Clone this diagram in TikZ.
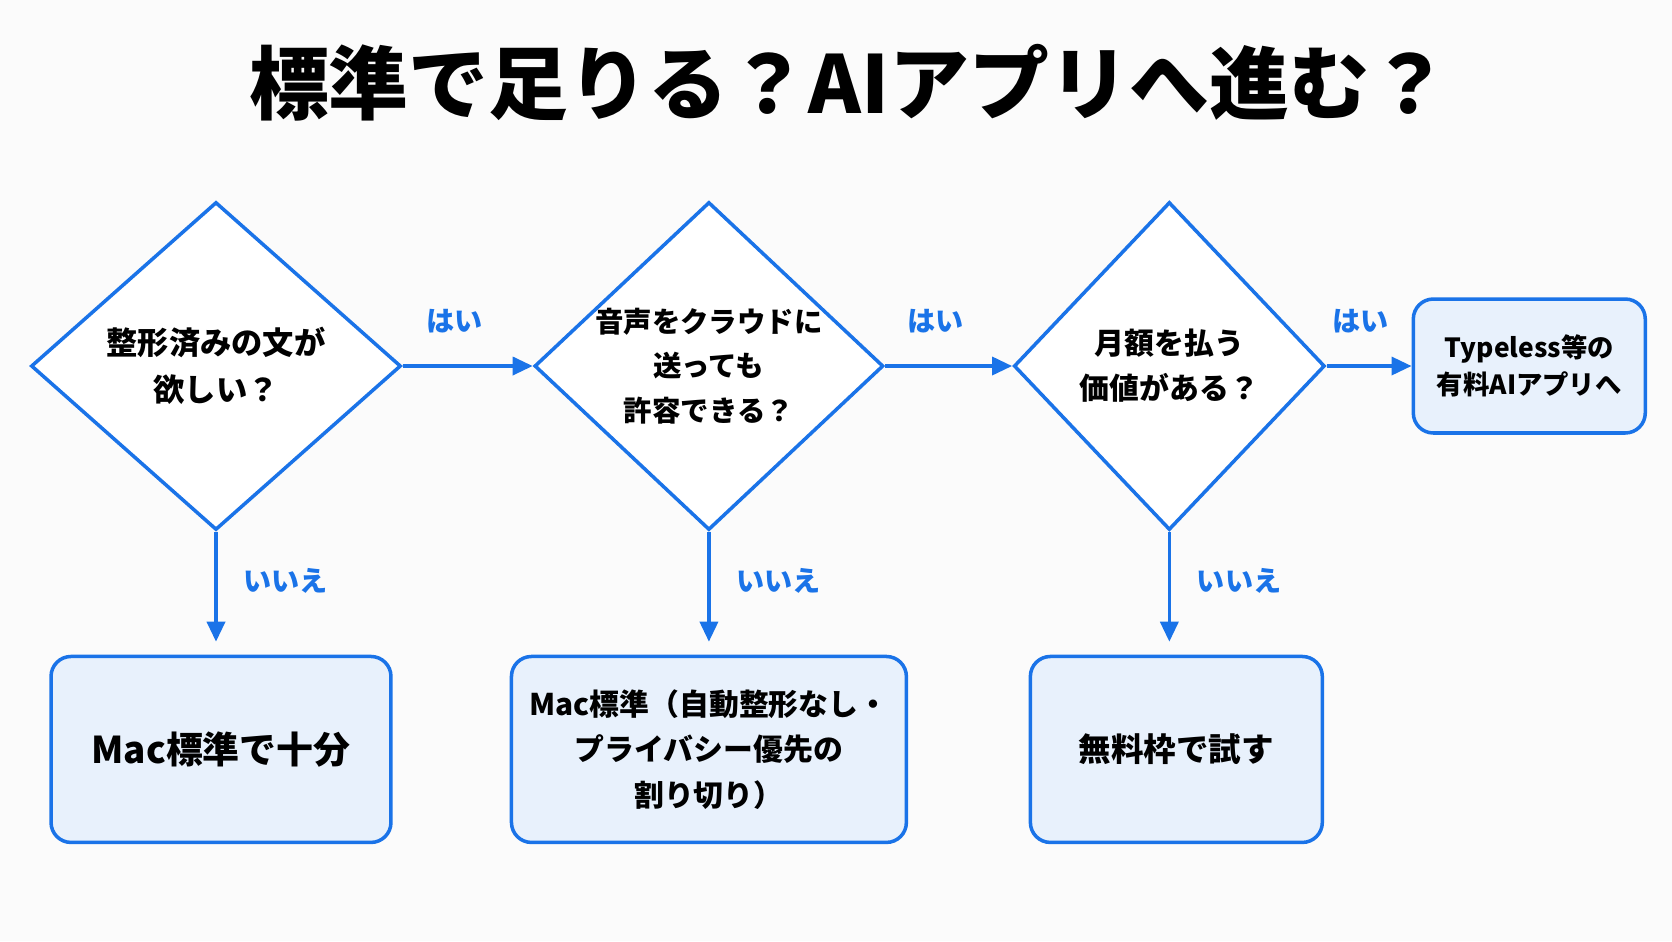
\documentclass[tikz,border=0pt]{standalone}
\usepackage{fontspec}
\setmainfont{Noto Sans CJK JP}
\usepackage{xcolor}
\usetikzlibrary{arrows.meta, positioning, shapes.geometric}
\definecolor{flowblue}{HTML}{1A73E8}
\definecolor{boxfill}{HTML}{E8F1FC}
\definecolor{bgpaper}{HTML}{FBFBFB}

\begin{document}
\begin{tikzpicture}[x=0.02cm, y=-0.02cm,
    q/.style={diamond, draw=flowblue, line width=2pt, fill=white, align=center,
              inner sep=0pt, font=\fontsize{17}{25.5}\selectfont\bfseries},
    res/.style={draw=flowblue, line width=2pt, fill=boxfill, rounded corners=4mm,
                align=center, minimum height=3.72cm},
    arr/.style={-{Triangle[length=4mm, width=3.6mm]}, draw=flowblue, line width=2pt},
    ans/.style={text=flowblue, font=\fontsize{16}{18}\selectfont\bfseries}]
  \fill[bgpaper] (0,0) rectangle (1672,941);
  \node[font=\fontsize{45.5}{50}\selectfont\bfseries] (title) at (849,83) {標準で足りる？AIアプリへ進む？};
  % questions
  \node[q, minimum width=7.4cm, minimum height=6.56cm,
        font=\fontsize{17.8}{26.5}\selectfont\bfseries] (q1) at (216,366) {整形済みの文が\\欲しい？};
  \node[q, minimum width=6.98cm, minimum height=6.56cm, inner sep=-6mm, right=2.6cm of q1,
        font=\fontsize{16.2}{25.5}\selectfont\bfseries] (q2) {音声をクラウドに\\送っても\\許容できる？};
  \node[q, minimum width=6.22cm, minimum height=6.56cm, right=2.54cm of q2] (q3) {月額を払う\\価値がある？};
  % outcomes
  \node[res, minimum width=4.64cm, minimum height=2.68cm, right=1.7cm of q3,
        font=\fontsize{15}{21}\selectfont\bfseries] (paid) {Typeless等の\\有料AIアプリへ};
  \node[res, minimum width=6.8cm, below=2.46cm of q1, xshift=1mm,
        font=\fontsize{21}{26}\selectfont\bfseries] (r1) {Mac標準で十分};
  \node[res, minimum width=7.9cm, below=2.46cm of q2,
        font=\fontsize{17}{26}\selectfont\bfseries] (r2) {Mac標準（自動整形なし・\\プライバシー優先の\\割り切り）};
  \node[res, minimum width=5.84cm, below=2.46cm of q3, xshift=1.4mm,
        font=\fontsize{18.5}{26}\selectfont\bfseries] (r3) {無料枠で試す};
  \draw[arr] (q1) -- node[ans, above=5mm, pos=0.4] {はい} (q2);
  \draw[arr] (q2) -- node[ans, above=5mm, pos=0.4] {はい} (q3);
  \draw[arr] (q3) -- node[ans, above=5mm, pos=0.4] {はい} (paid);
  \draw[arr, shorten >=2.6mm] (q1.south) -- node[ans, right=4mm, pos=0.4] {いいえ} (q1.south |- r1.north);
  \draw[arr, shorten >=2.6mm] (q2.south) -- node[ans, right=4mm, pos=0.4] {いいえ} (q2.south |- r2.north);
  \draw[arr, shorten >=2.6mm] (q3.south) -- node[ans, right=4mm, pos=0.4] {いいえ} (q3.south |- r3.north);
\end{tikzpicture}
\end{document}
